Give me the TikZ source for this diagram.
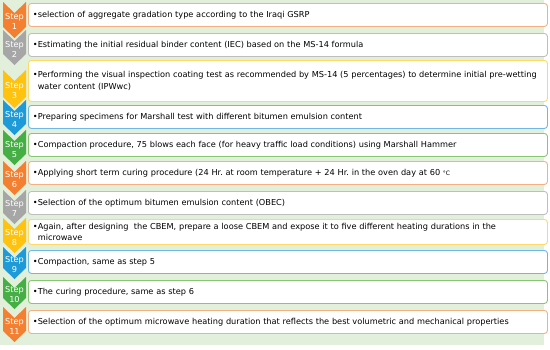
\documentclass[tikz,border=0pt]{standalone}
\usepackage{fontspec}
\setmainfont{DejaVu Sans}
\frenchspacing
\definecolor{bggreen}{HTML}{E2EFDA}
\definecolor{cOr}{HTML}{F47F30}
\definecolor{cGr}{HTML}{A6A6A6}
\definecolor{cYe}{HTML}{FFC20E}
\definecolor{cBl}{HTML}{1F9AD8}
\definecolor{cGn}{HTML}{45AE44}
\definecolor{lOr}{HTML}{F6AF80}
\definecolor{lGr}{HTML}{BEBEBE}
\definecolor{lYe}{HTML}{FFD966}
\definecolor{lBl}{HTML}{6DB9E6}
\definecolor{lGn}{HTML}{86C774}
\tikzset{
  boxst/.style={draw=#1, line width=0.9pt, rounded corners=3pt, fill=white,
    minimum width=518pt, text width=510pt, align=left, inner xsep=4.5pt, inner ysep=0pt,
    font=\fontsize{8.2}{11.5}\selectfont},
  chevtxt/.style={text=white, inner sep=0pt, font=\fontsize{8.2}{9}\selectfont},
}
\newcommand{\chevron}[5]{% #1 top, #2 tip, #3 colour, #4 number, #5 name
  \fill[#3] (3,#1) -- (14.5,#1+11) -- (26,#1) -- (26,#2-11) -- (14.5,#2) -- (3,#2-11) -- cycle;
  \node[chevtxt] (#5s) at (14.5,{(#1+#2)/2-2.5}) {Step};
  \node[chevtxt] (#5n) at (14.5,{(#1+#2)/2+7}) {#4};
}
\newcommand{\stepbox}[5]{% #1 top, #2 bottom, #3 colour, #4 name, #5 text
  \node[boxst=#3, minimum height={#2-#1}, anchor=north west] (#4) at (28,#1) {#5};
}
\begin{document}
\begin{tikzpicture}[x=1pt,y=-1pt]
\useasboundingbox (0,0) rectangle (550,349);
\fill[bggreen] (0,0) rectangle (544,345);
\chevron{2}{38}{cOr}{1}{c1}
\chevron{30}{65}{cGr}{2}{c2}
\chevron{70}{108}{cYe}{3}{c3}
\chevron{100}{135}{cBl}{4}{c4}
\chevron{130}{165}{cGn}{5}{c5}
\chevron{161}{195}{cOr}{6}{c6}
\chevron{190}{224}{cGr}{7}{c7}
\chevron{218}{253}{cYe}{8}{c8}
\chevron{247}{279}{cBl}{9}{c9}
\chevron{277}{309}{cGn}{10}{c10}
\chevron{307}{342}{cOr}{11}{c11}
\stepbox{3}{26}{lOr}{b1}{•selection of aggregate gradation type according to the Iraqi GSRP}
\stepbox{33}{56}{lGr}{b2}{•Estimating the initial residual binder content (IEC) based on the MS-14 formula}
\stepbox{60}{101}{lYe}{b3}{•Performing the visual inspection coating test as recommended by MS-14 (5 percentages) to determine initial pre-wetting\\\phantom{•}water content (IPWwc)}
\stepbox{105}{128}{lBl}{b4}{•Preparing specimens for Marshall test with different bitumen emulsion content}
\stepbox{133}{156}{lGn}{b5}{•Compaction procedure, 75 blows each face (for heavy traffic load conditions) using Marshall Hammer}
\stepbox{161}{184}{lOr}{b6}{•Applying short term curing procedure (24 Hr. at room temperature + 24 Hr. in the oven day at 60 {\fontsize{6}{6}\selectfont °C}}
\stepbox{191}{214}{lGr}{b7}{•Selection of the optimum bitumen emulsion content (OBEC)}
\stepbox{219}{244}{lYe}{b8}{•Again, after designing\ \ the CBEM, prepare a loose CBEM and expose it to five different heating durations in the\\\phantom{•}microwave}
\stepbox{250}{273}{lBl}{b9}{•Compaction, same as step 5}
\stepbox{280}{303}{lGn}{b10}{•The curing procedure, same as step 6}
\stepbox{310}{333}{lOr}{b11}{•Selection of the optimum microwave heating duration that reflects the best volumetric and mechanical properties}
\end{tikzpicture}
\end{document}
